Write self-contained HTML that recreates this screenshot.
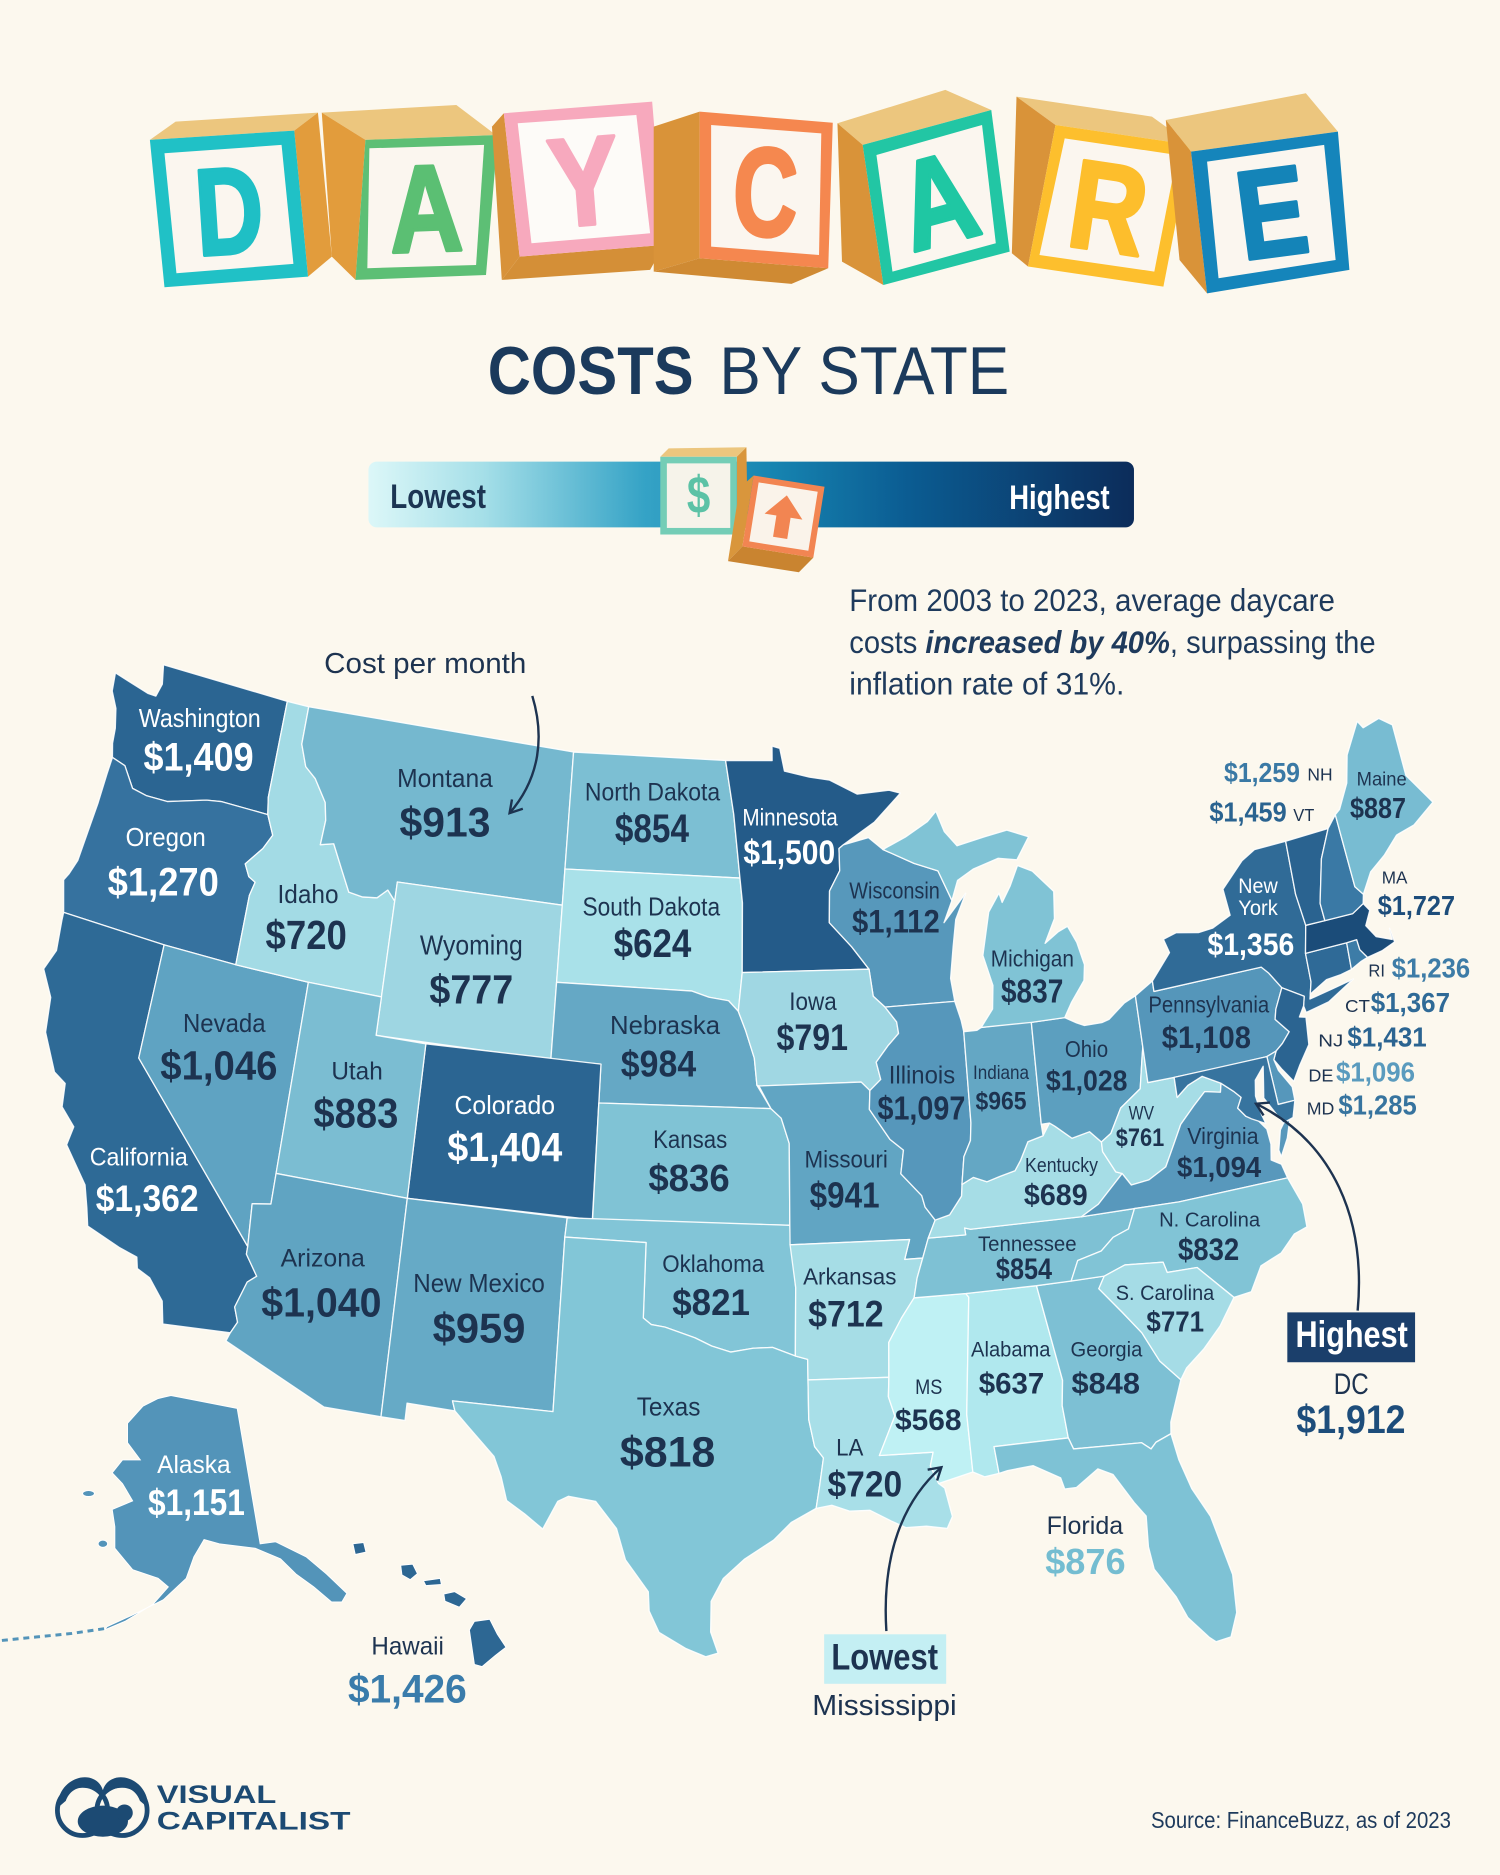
<!DOCTYPE html>
<html><head><meta charset="utf-8">
<style>
html,body{margin:0;padding:0;background:#fcf8ee;}
svg{display:block}
text{font-family:"Liberation Sans",Arial,sans-serif;}
.n{font-weight:400;fill:#1d3350}
.v{font-weight:700;fill:#1d3350}
.w{fill:#ffffff}
.bl{font-weight:700;stroke-linejoin:round;stroke-width:3}
</style></head><body>
<svg width="1500" height="1875" viewBox="0 0 1254 1568" preserveAspectRatio="none">
<defs>
<linearGradient id="lg" x1="0" x2="1" y1="0" y2="0">
<stop offset="0" stop-color="#dcf7f8"/><stop offset="0.15" stop-color="#a5dfe8"/><stop offset="0.36" stop-color="#35a3c6"/><stop offset="0.52" stop-color="#1786b2"/><stop offset="0.7" stop-color="#0b5d93"/><stop offset="1" stop-color="#0c2c5a"/>
</linearGradient>
<marker id="ah" markerWidth="14" markerHeight="14" refX="11" refY="7" orient="auto" markerUnits="userSpaceOnUse">
<path d="M1,1 L11,7 L1,13" fill="none" stroke="#1d3350" stroke-width="2"/>
</marker>
</defs>
<rect width="1254" height="1568" fill="#fcf8ee"/>

<!-- DAYCARE blocks -->
<g>
<polygon points="125.3,117 146.8,101.7 265.8,94.2 246,109.2" fill="#ecc67e"/>
<polygon points="246,109.2 265.8,94.2 277.4,214.6 257.5,231.3" fill="#e29c3c"/>
<polygon points="125.3,117 246,109.2 257.5,231.3 137.5,240.2" fill="#20c1c6"/>
<polygon points="137.5,128.2 235.4,121.2 245.3,220.7 147.5,228.5" fill="#fbf6ef"/>
<text class="bl" transform="translate(191.5,175) rotate(-3.7) scale(0.76,1)" y="37" text-anchor="middle" font-size="103" fill="#1fbfc5" stroke="#1fbfc5">D</text>

<polygon points="269,94.2 381.5,87.8 414.6,112.9 305.5,117" fill="#ecc67e"/>
<polygon points="269,94.2 305.5,117 297.2,234.1 277.4,214.6" fill="#e29c3c"/>
<polygon points="305.5,117 416.2,112.9 406.3,230 297.2,234.1" fill="#5dbf75"/>
<polygon points="308.8,124 404.7,121.2 398,221.6 307.1,224.3" fill="#fbf6ef"/>
<text class="bl" transform="translate(356,173) rotate(-2) scale(0.82,1)" y="37" text-anchor="middle" font-size="103" fill="#5bbf73" stroke="#5bbf73">A</text>

<polygon points="411.3,105.9 421.2,94.7 434.4,214.6 419.5,234.1" fill="#d8923a"/>
<polygon points="434.4,214.6 555.1,204.8 543.5,225.7 419.5,234.1" fill="#d48f37"/>
<polygon points="421.2,94.7 545.2,85 555.1,204.8 434.4,214.6" fill="#f7a9bd"/>
<polygon points="432.8,103.1 532,96.1 543.5,195.1 444.3,203.4" fill="#fdfbf8"/>
<text class="bl" transform="translate(488,150) rotate(-4.5) scale(0.84,1)" y="38" text-anchor="middle" font-size="105" fill="#f7a9be" stroke="#f7a9be">Y</text>

<polygon points="546.5,105.9 584.9,93.4 584.9,216 546.5,227.1" fill="#d99339"/>
<polygon points="546.5,227.1 584.9,216 692.4,224.3 661.7,237.4" fill="#cf8a33"/>
<polygon points="584.9,93.4 696.2,102.6 692.4,224.3 584.9,216" fill="#f5874f"/>
<polygon points="594.5,104.5 686.6,111.5 684.7,213.2 594.5,206.2" fill="#fbf6ef"/>
<text class="bl" transform="translate(640,159) rotate(2) scale(0.71,1)" y="38" text-anchor="middle" font-size="105" fill="#f5884f" stroke="#f5884f">C</text>

<polygon points="700.1,103.1 790.3,75.2 828.7,92 721.2,121.2" fill="#ecc67e"/>
<polygon points="700.1,103.1 721.2,121.2 738.5,238.3 703.9,218.8" fill="#d99339"/>
<polygon points="721.2,121.2 828.7,92 844.1,210.4 738.5,238.3" fill="#22c6a4"/>
<polygon points="732.7,129.6 821,104.5 832.5,203.4 746.1,227.1" fill="#fbf6ef"/>
<text class="bl" transform="translate(783,166) rotate(-15) scale(0.82,1)" y="38" text-anchor="middle" font-size="105" fill="#1fc7a3" stroke="#1fc7a3">A</text>

<polygon points="849.8,80.8 963,97.5 995.7,121.2 882.4,104.5" fill="#ecc67e"/>
<polygon points="849.8,80.8 882.4,104.5 859.4,222.9 845.9,211.8" fill="#d99339"/>
<polygon points="882.4,104.5 995.7,121.2 972.6,239.7 859.4,222.9" fill="#fdbf2d"/>
<polygon points="890.1,115.7 984.1,129.6 965,227.1 869,213.2" fill="#fbf6ef"/>
<text class="bl" transform="translate(927,172) rotate(8.5) scale(0.84,1)" y="38" text-anchor="middle" font-size="105" fill="#fdbe2c" stroke="#fdbe2c">R</text>

<polygon points="974.6,100.3 1091.7,78 1118.5,110.1 995.7,126.8" fill="#ecc67e"/>
<polygon points="974.6,100.3 995.7,126.8 1009.1,245.3 986.1,217.4" fill="#d99339"/>
<polygon points="995.7,126.8 1118.5,110.1 1128.1,225.7 1009.1,245.3" fill="#1585bb"/>
<polygon points="1009.1,135.2 1107,121.2 1116.6,217.4 1018.7,232.7" fill="#fbf6ef"/>
<text class="bl" transform="translate(1063,176) rotate(-7.5) scale(0.83,1)" y="38" text-anchor="middle" font-size="105" fill="#1484b8" stroke="#1484b8">E</text>
</g>

<!-- Title -->
<text x="407.8" y="329.5" font-size="57" font-weight="700" fill="#1b3a5c" textLength="172" lengthAdjust="spacingAndGlyphs">COSTS</text>
<text x="601.4" y="329.5" font-size="57" font-weight="400" fill="#1b3a5c" textLength="242.3" lengthAdjust="spacingAndGlyphs">BY STATE</text>

<!-- Legend bar -->
<rect x="308" y="386" width="640" height="55" rx="7" fill="url(#lg)"/>
<text x="326.3" y="424.8" font-size="29" font-weight="700" fill="#1c3553" textLength="80" lengthAdjust="spacingAndGlyphs">Lowest</text>
<text x="843.7" y="425.5" font-size="29" font-weight="700" fill="#ffffff" textLength="84" lengthAdjust="spacingAndGlyphs">Highest</text>
<g>
<polygon points="552,382 559,375 624,374 616,382" fill="#ecc67e"/>
<polygon points="616,382 624,374 625,440 616,447" fill="#d9963c"/>
<rect x="552" y="382" width="64" height="65" fill="#74cdb6"/>
<rect x="557.5" y="387.5" width="53" height="54" fill="#f6f3ea"/>
<text x="584" y="429" font-size="44" font-weight="700" fill="#5cc2a6" text-anchor="middle" transform="translate(584,0) scale(0.8,1) translate(-584,0)">$</text>
</g>
<g transform="translate(655,432) rotate(9)">
<polygon points="-30,-30 -40,-18 -40,44 -30,30" fill="#d9963c"/>
<polygon points="-30,30 -40,44 20,44 30,30" fill="#c98430"/>
<rect x="-30" y="-30" width="60" height="60" fill="#f28552"/>
<rect x="-25" y="-25" width="50" height="50" fill="#faf3ea"/>
<polygon points="0,-18 16,0 6,0 6,18 -6,18 -6,0 -16,0" fill="#f28552"/>
</g>

<!-- Paragraph -->
<text x="710" y="511" font-size="26" fill="#1e3a5c" textLength="406" lengthAdjust="spacingAndGlyphs">From 2003 to 2023, average daycare</text>
<text x="710" y="546" font-size="26" fill="#1e3a5c" textLength="440" lengthAdjust="spacingAndGlyphs">costs <tspan font-weight="700" font-style="italic">increased by 40%</tspan>, surpassing the</text>
<text x="710" y="581" font-size="26" fill="#1e3a5c" textLength="230" lengthAdjust="spacingAndGlyphs">inflation rate of 31%.</text>

<text x="271" y="563" font-size="24" fill="#1d3350" textLength="169" lengthAdjust="spacingAndGlyphs">Cost per month</text>

<!-- States -->
<g id="st" stroke="#ffffff" stroke-width="1.1" stroke-linejoin="round" stroke-opacity="0.9"></g>

<!-- Alaska & Hawaii -->
<g stroke="#ffffff" stroke-width="0.8">
<path fill="#5394b9" d="M142.9,1167 L198.3,1177.8 L217.5,1291.1 L230.3,1289.3 L255.9,1301.9 L273,1316.3 L290,1332.5 L285.8,1339.7 L277.2,1339.7 L262.3,1327.1 L247.4,1316.3 L234.6,1303.7 L213.3,1294.7 L183.4,1291.1 L170.6,1287.5 L162.1,1301.9 L155.7,1319.9 L136.5,1337.9 L110.9,1350.5 L89.6,1360.2 L87.4,1363.1 L104.5,1355.9 L128,1341.5 L140.7,1327.1 L132.2,1319.9 L110.9,1312.7 L96,1294.7 L96,1276.7 L93.8,1262.3 L110.9,1255.1 L102.4,1240.7 L93.8,1231.7 L102.4,1220.9 L117.3,1220.9 L106.6,1206.5 L106.6,1190.3 L119.4,1176 L132.2,1169.5 Z"/>
<ellipse cx="74" cy="1249" rx="5" ry="2.5" fill="#5394b9"/>
<ellipse cx="86" cy="1291" rx="4" ry="3" fill="#5394b9"/>
<path fill="#2d6793" d="M396.6,1355.9 L409.4,1354.1 L415.8,1366.7 L423,1377.5 L413.7,1384.7 L403,1393.7 L396.6,1391.9 L394.5,1377.5 L392.4,1363.1 Z"/>
<path fill="#2d6793" d="M371,1333 L380,1331 L390,1337 L384,1344 L372,1339 Z"/>
<path fill="#2d6793" d="M354,1322 L368,1320 L369,1325 L356,1326 Z"/>
<path fill="#2d6793" d="M335,1309 L345,1308 L349,1316 L343,1321 L336,1317 Z"/>
<path fill="#2d6793" d="M295,1291 L304,1290 L306,1298 L297,1300 Z"/>
</g>
<path d="M87,1362 L60,1366 L30,1369 L0,1372" fill="none" stroke="#5394b9" stroke-width="2.5" stroke-dasharray="5 4"/>

<!-- Cost per month arrow (drawn above states) -->
<path d="M445,582 C455,615 452,650 426,680" fill="none" stroke="#1d3350" stroke-width="2" marker-end="url(#ah)"/>

<!-- State labels -->
<g>
<text class="n w" x="116" y="608" font-size="22" textLength="102" lengthAdjust="spacingAndGlyphs">Washington</text>
<text class="v w" x="120" y="644.5" font-size="33" textLength="92" lengthAdjust="spacingAndGlyphs">$1,409</text>
<text class="n w" x="105" y="707.6" font-size="22" textLength="67" lengthAdjust="spacingAndGlyphs">Oregon</text>
<text class="v w" x="90" y="748.7" font-size="33" textLength="93" lengthAdjust="spacingAndGlyphs">$1,270</text>
<text class="n w" x="75" y="974.8" font-size="21" textLength="82" lengthAdjust="spacingAndGlyphs">California</text>
<text class="v w" x="80" y="1012.9" font-size="31" textLength="86" lengthAdjust="spacingAndGlyphs">$1,362</text>
<text class="n" x="232" y="755" font-size="22" textLength="51" lengthAdjust="spacingAndGlyphs">Idaho</text>
<text class="v" x="222" y="793.8" font-size="34" textLength="68" lengthAdjust="spacingAndGlyphs">$720</text>
<text class="n" x="332" y="658.3" font-size="22" textLength="80" lengthAdjust="spacingAndGlyphs">Montana</text>
<text class="v" x="334" y="699.4" font-size="35" textLength="76" lengthAdjust="spacingAndGlyphs">$913</text>
<text class="n" x="489" y="669.5" font-size="21" textLength="113" lengthAdjust="spacingAndGlyphs">North Dakota</text>
<text class="v" x="514" y="704.2" font-size="33" textLength="62" lengthAdjust="spacingAndGlyphs">$854</text>
<text class="n" x="487" y="765.5" font-size="22" textLength="115" lengthAdjust="spacingAndGlyphs">South Dakota</text>
<text class="v" x="513" y="800.2" font-size="33" textLength="65" lengthAdjust="spacingAndGlyphs">$624</text>
<text class="n" x="351" y="798.3" font-size="23" textLength="86" lengthAdjust="spacingAndGlyphs">Wyoming</text>
<text class="v" x="359" y="839.3" font-size="34" textLength="70" lengthAdjust="spacingAndGlyphs">$777</text>
<text class="n" x="153" y="862.9" font-size="22" textLength="69" lengthAdjust="spacingAndGlyphs">Nevada</text>
<text class="v" x="134" y="902.8" font-size="34" textLength="98" lengthAdjust="spacingAndGlyphs">$1,046</text>
<text class="n" x="277" y="902.8" font-size="21" textLength="43" lengthAdjust="spacingAndGlyphs">Utah</text>
<text class="v" x="262" y="943.1" font-size="35" textLength="71" lengthAdjust="spacingAndGlyphs">$883</text>
<text class="n w" x="380" y="931.5" font-size="22" textLength="84" lengthAdjust="spacingAndGlyphs">Colorado</text>
<text class="v w" x="374" y="971.1" font-size="34" textLength="96" lengthAdjust="spacingAndGlyphs">$1,404</text>
<text class="n" x="510" y="864.7" font-size="22" textLength="92" lengthAdjust="spacingAndGlyphs">Nebraska</text>
<text class="v" x="519" y="900.2" font-size="31" textLength="63" lengthAdjust="spacingAndGlyphs">$984</text>
<text class="n" x="546" y="959.9" font-size="21" textLength="62" lengthAdjust="spacingAndGlyphs">Kansas</text>
<text class="v" x="542" y="996.1" font-size="32" textLength="68" lengthAdjust="spacingAndGlyphs">$836</text>
<text class="n" x="553.6" y="1063.7" font-size="20" textLength="85.3" lengthAdjust="spacingAndGlyphs">Oklahoma</text>
<text class="v" x="562" y="1099.7" font-size="31" textLength="65" lengthAdjust="spacingAndGlyphs">$821</text>
<text class="n" x="234.6" y="1059" font-size="21" textLength="70.4" lengthAdjust="spacingAndGlyphs">Arizona</text>
<text class="v" x="218.4" y="1101.1" font-size="34" textLength="100.6" lengthAdjust="spacingAndGlyphs">$1,040</text>
<text class="n" x="345.5" y="1080.6" font-size="22" textLength="110" lengthAdjust="spacingAndGlyphs">New Mexico</text>
<text class="v" x="361.7" y="1122.7" font-size="35" textLength="77.6" lengthAdjust="spacingAndGlyphs">$959</text>
<text class="n" x="532.3" y="1183.9" font-size="22" textLength="53.3" lengthAdjust="spacingAndGlyphs">Texas</text>
<text class="v" x="518.2" y="1226.3" font-size="36" textLength="79.8" lengthAdjust="spacingAndGlyphs">$818</text>
<text class="n w" x="620.6" y="690.4" font-size="20" textLength="79.8" lengthAdjust="spacingAndGlyphs">Minnesota</text>
<text class="v w" x="621.5" y="722.5" font-size="29" textLength="76.7" lengthAdjust="spacingAndGlyphs">$1,500</text>
<text class="n" x="710" y="751.3" font-size="19" textLength="75.7" lengthAdjust="spacingAndGlyphs">Wisconsin</text>
<text class="v" x="712.3" y="780" font-size="27" textLength="73.4" lengthAdjust="spacingAndGlyphs">$1,112</text>
<text class="n" x="828.3" y="808.4" font-size="19" textLength="69.5" lengthAdjust="spacingAndGlyphs">Michigan</text>
<text class="v" x="836.8" y="838.2" font-size="28" textLength="52.1" lengthAdjust="spacingAndGlyphs">$837</text>
<text class="n" x="659.8" y="844.6" font-size="21" textLength="39.7" lengthAdjust="spacingAndGlyphs">Iowa</text>
<text class="v" x="649.2" y="878.2" font-size="31" textLength="59.7" lengthAdjust="spacingAndGlyphs">$791</text>
<text class="n" x="743" y="906.2" font-size="21" textLength="55.5" lengthAdjust="spacingAndGlyphs">Illinois</text>
<text class="v" x="733.6" y="936" font-size="28" textLength="73.4" lengthAdjust="spacingAndGlyphs">$1,097</text>
<text class="n" x="813.4" y="902.4" font-size="16" textLength="46.9" lengthAdjust="spacingAndGlyphs">Indiana</text>
<text class="v" x="815.5" y="927.8" font-size="21" textLength="42.7" lengthAdjust="spacingAndGlyphs">$965</text>
<text class="n" x="890.2" y="883.8" font-size="19" textLength="36.2" lengthAdjust="spacingAndGlyphs">Ohio</text>
<text class="v" x="874.4" y="911.8" font-size="24" textLength="68.2" lengthAdjust="spacingAndGlyphs">$1,028</text>
<text class="n" x="960" y="846.6" font-size="19" textLength="101" lengthAdjust="spacingAndGlyphs">Pennsylvania</text>
<text class="v" x="971.2" y="876.3" font-size="26" textLength="74.6" lengthAdjust="spacingAndGlyphs">$1,108</text>
<text class="n w" x="1035.2" y="747" font-size="18" textLength="33" lengthAdjust="spacingAndGlyphs">New</text>
<text class="n w" x="1035.2" y="765" font-size="18" textLength="33" lengthAdjust="spacingAndGlyphs">York</text>
<text class="v w" x="1009.5" y="798.6" font-size="26" textLength="72.5" lengthAdjust="spacingAndGlyphs">$1,356</text>
<text class="n" x="943.5" y="936" font-size="16" textLength="21.3" lengthAdjust="spacingAndGlyphs">WV</text>
<text class="v" x="932.8" y="958.4" font-size="21" textLength="40.5" lengthAdjust="spacingAndGlyphs">$761</text>
<text class="n" x="992.5" y="956.5" font-size="19" textLength="59.7" lengthAdjust="spacingAndGlyphs">Virginia</text>
<text class="v" x="984" y="984.5" font-size="24" textLength="70.4" lengthAdjust="spacingAndGlyphs">$1,094</text>
<text class="n" x="856.9" y="980" font-size="17" textLength="61" lengthAdjust="spacingAndGlyphs">Kentucky</text>
<text class="v" x="856" y="1007.7" font-size="25" textLength="53.3" lengthAdjust="spacingAndGlyphs">$689</text>
<text class="n" x="672.6" y="976.3" font-size="20" textLength="69.6" lengthAdjust="spacingAndGlyphs">Missouri</text>
<text class="v" x="676.9" y="1009.9" font-size="30" textLength="58.4" lengthAdjust="spacingAndGlyphs">$941</text>
<text class="n" x="817.6" y="1046.1" font-size="18" textLength="82.4" lengthAdjust="spacingAndGlyphs">Tennessee</text>
<text class="v" x="832.6" y="1069.6" font-size="25" textLength="46.9" lengthAdjust="spacingAndGlyphs">$854</text>
<text class="n" x="969" y="1025.6" font-size="17" textLength="84.5" lengthAdjust="spacingAndGlyphs">N. Carolina</text>
<text class="v" x="984.8" y="1053.6" font-size="26" textLength="51.2" lengthAdjust="spacingAndGlyphs">$832</text>
<text class="n" x="671.4" y="1074.1" font-size="19" textLength="78" lengthAdjust="spacingAndGlyphs">Arkansas</text>
<text class="v" x="675.6" y="1109.5" font-size="31" textLength="63.1" lengthAdjust="spacingAndGlyphs">$712</text>
<text class="n" x="932.8" y="1087.2" font-size="18" textLength="82.3" lengthAdjust="spacingAndGlyphs">S. Carolina</text>
<text class="v" x="958.4" y="1113.3" font-size="24" textLength="48.2" lengthAdjust="spacingAndGlyphs">$771</text>
<text class="n" x="811.8" y="1134.6" font-size="18" textLength="66.4" lengthAdjust="spacingAndGlyphs">Alabama</text>
<text class="v" x="818.2" y="1165.2" font-size="25" textLength="54.8" lengthAdjust="spacingAndGlyphs">$637</text>
<text class="n" x="895" y="1134.6" font-size="18" textLength="60" lengthAdjust="spacingAndGlyphs">Georgia</text>
<text class="v" x="895.8" y="1165.2" font-size="25" textLength="57.2" lengthAdjust="spacingAndGlyphs">$848</text>
<text class="n" x="765" y="1165.9" font-size="18" textLength="22.8" lengthAdjust="spacingAndGlyphs">MS</text>
<text class="v" x="748.2" y="1195.7" font-size="25" textLength="55.6" lengthAdjust="spacingAndGlyphs">$568</text>
<text class="n" x="699" y="1217.3" font-size="20" textLength="22.8" lengthAdjust="spacingAndGlyphs">LA</text>
<text class="v" x="691.8" y="1251.5" font-size="30" textLength="62.4" lengthAdjust="spacingAndGlyphs">$720</text>
<text class="n" x="875" y="1282.8" font-size="21" textLength="64" lengthAdjust="spacingAndGlyphs">Florida</text>
<text class="v" x="873.8" y="1316.3" font-size="30" textLength="67.2" lengthAdjust="spacingAndGlyphs" style="fill:#74bdd1">$876</text>
<text class="n" x="1134.2" y="657.1" font-size="16" textLength="41.8" lengthAdjust="spacingAndGlyphs">Maine</text>
<text class="v" x="1128.6" y="684.1" font-size="24" textLength="46.8" lengthAdjust="spacingAndGlyphs">$887</text>
<text class="v" x="1023.3" y="654" font-size="23" textLength="63.5" lengthAdjust="spacingAndGlyphs" style="fill:#3a79a5">$1,259</text>
<text class="n" x="1093" y="652.9" font-size="15" textLength="21.1" lengthAdjust="spacingAndGlyphs">NH</text>
<text class="v" x="1011" y="686.9" font-size="23" textLength="64.7" lengthAdjust="spacingAndGlyphs" style="fill:#2a6390">$1,459</text>
<text class="n" x="1081.2" y="686.4" font-size="14.5" textLength="17.6" lengthAdjust="spacingAndGlyphs">VT</text>
<text class="n" x="1155.1" y="739" font-size="15" textLength="21.5" lengthAdjust="spacingAndGlyphs">MA</text>
<text class="v" x="1151.8" y="765" font-size="23" textLength="64.6" lengthAdjust="spacingAndGlyphs" style="fill:#1d4d7b">$1,727</text>
<text class="n" x="1144" y="816.5" font-size="15" textLength="13.9" lengthAdjust="spacingAndGlyphs">RI</text>
<text class="v" x="1163.5" y="817.4" font-size="23" textLength="65.5" lengthAdjust="spacingAndGlyphs" style="fill:#3d7ca7">$1,236</text>
<text class="n" x="1124.4" y="846.3" font-size="15" textLength="20.9" lengthAdjust="spacingAndGlyphs">CT</text>
<text class="v" x="1145.9" y="846.3" font-size="23" textLength="66.3" lengthAdjust="spacingAndGlyphs" style="fill:#2f6a97">$1,367</text>
<text class="n" x="1102.1" y="875.1" font-size="15" textLength="20.9" lengthAdjust="spacingAndGlyphs">NJ</text>
<text class="v" x="1126.4" y="875.1" font-size="23" textLength="66.3" lengthAdjust="spacingAndGlyphs" style="fill:#2b6491">$1,431</text>
<text class="n" x="1093.8" y="904.3" font-size="15" textLength="20.9" lengthAdjust="spacingAndGlyphs">DE</text>
<text class="v" x="1116.9" y="904.3" font-size="23" textLength="66.1" lengthAdjust="spacingAndGlyphs" style="fill:#5a9bbe">$1,096</text>
<text class="n" x="1092.4" y="932.2" font-size="15" textLength="23.1" lengthAdjust="spacingAndGlyphs">MD</text>
<text class="v" x="1118.9" y="932.2" font-size="23" textLength="65.5" lengthAdjust="spacingAndGlyphs" style="fill:#37749f">$1,285</text>
<text class="n w" x="131.4" y="1231.7" font-size="21" textLength="61.4" lengthAdjust="spacingAndGlyphs">Alaska</text>
<text class="v w" x="123.7" y="1267" font-size="31" textLength="81" lengthAdjust="spacingAndGlyphs">$1,151</text>
<text class="n" x="310.5" y="1383.6" font-size="21" textLength="60.6" lengthAdjust="spacingAndGlyphs">Hawaii</text>
<text class="v" x="290.9" y="1423.6" font-size="33" textLength="99.3" lengthAdjust="spacingAndGlyphs" style="fill:#3a7cab">$1,426</text>
</g>

<!-- Highest / Lowest callouts -->
<path d="M1135,1096 C1142,1020 1115,955 1050,923" fill="none" stroke="#1d3350" stroke-width="2" marker-end="url(#ah)"/>
<rect x="1076.2" y="1097.5" width="106.8" height="41.7" fill="#1b3f6b"/>
<text x="1083" y="1126.3" font-size="31" font-weight="700" fill="#ffffff" textLength="94" lengthAdjust="spacingAndGlyphs">Highest</text>
<text class="n" x="1115" y="1165.9" font-size="25" textLength="29.2" lengthAdjust="spacingAndGlyphs">DC</text>
<text class="v" x="1083.8" y="1198.3" font-size="33" textLength="91.2" lengthAdjust="spacingAndGlyphs" style="fill:#1d4d7b">$1,912</text>

<path d="M741,1364 C737,1300 755,1255 787,1227" fill="none" stroke="#1d3350" stroke-width="2" marker-end="url(#ah)"/>
<rect x="689" y="1366.7" width="102" height="41.4" fill="#c4eff3"/>
<text class="v" x="695" y="1396.2" font-size="31" textLength="89.2" lengthAdjust="spacingAndGlyphs">Lowest</text>
<text class="n" x="679" y="1434.4" font-size="24" textLength="120.8" lengthAdjust="spacingAndGlyphs">Mississippi</text>

<!-- Logo -->
<g fill="#1c4a73">
<circle cx="69" cy="1514" r="21" fill="none" stroke="#1c4a73" stroke-width="4"/>
<circle cx="102" cy="1514" r="21" fill="none" stroke="#1c4a73" stroke-width="4"/>
<path d="M48,1512 C48,1485 80,1478 86,1497 C92,1478 124,1485 124,1512 L117,1506 C112,1492 96,1491 86,1503 C76,1491 60,1492 55,1506 Z"/>
<ellipse cx="86" cy="1523" rx="21" ry="13"/>
<circle cx="104" cy="1516" r="7"/>
</g>
<text x="131" y="1508" font-size="21" font-weight="700" fill="#1c4a73" textLength="100" lengthAdjust="spacingAndGlyphs">VISUAL</text>
<text x="131" y="1530" font-size="21" font-weight="700" fill="#1c4a73" textLength="162" lengthAdjust="spacingAndGlyphs">CAPITALIST</text>

<text x="962.2" y="1528.7" font-size="19.5" fill="#1e3a5c" textLength="250.8" lengthAdjust="spacingAndGlyphs">Source: FinanceBuzz, as of 2023</text>
</svg>

<script>
(function(){
var n=0.602837,C=1.351222,r=Math.PI/180;
function P(lo,la){var rho=Math.sqrt(C-2*n*Math.sin(la*r))/n;var t=n*(lo+96)*r;return [629.6+1610*rho*Math.sin(t),1850*rho*Math.cos(t)-1402.4];}
var D=[
["#2b6592",[[-124.72,48.38],[-123.1,48.15],[-122.75,48.15],[-122.6,48.5],[-122.76,49.0],[-117.03,49.0],[-117.04,46.43],[-116.92,45.99],[-118.98,46.0],[-119.6,45.93],[-121.2,45.6],[-122.1,45.58],[-122.75,45.65],[-123.3,46.15],[-123.9,46.25],[-124.05,46.6],[-124.1,47.0],[-124.3,47.5],[-124.65,47.9]]],
["#36729f",[[-124.21,42.0],[-120.0,42.0],[-117.03,42.0],[-117.03,43.83],[-116.9,44.2],[-117.2,44.3],[-117.45,44.6],[-116.85,45.1],[-116.55,45.5],[-116.92,45.99],[-118.98,46.0],[-119.6,45.93],[-121.2,45.6],[-122.1,45.58],[-122.75,45.65],[-123.3,46.15],[-123.9,46.25],[-123.95,45.8],[-124.0,45.0],[-124.1,44.2],[-124.2,43.4],[-124.4,43.0],[-124.55,42.8]]],
["#2e6a96",[[-124.21,42.0],[-120.0,42.0],[-120.0,39.0],[-114.63,35.0],[-114.63,34.8],[-114.13,34.3],[-114.43,34.1],[-114.72,33.4],[-114.53,33.03],[-114.72,32.72],[-117.12,32.53],[-117.3,33.1],[-117.9,33.6],[-118.4,33.75],[-118.5,34.03],[-119.2,34.15],[-120.47,34.45],[-120.65,34.9],[-120.9,35.45],[-121.9,36.3],[-121.8,36.8],[-122.4,37.2],[-122.5,37.8],[-123.0,38.0],[-123.7,38.9],[-123.85,39.8],[-124.4,40.44],[-124.1,41.0],[-124.2,41.8]]],
["#5fa3c2",[[-120.0,42.0],[-117.03,42.0],[-114.04,42.0],[-114.05,36.2],[-114.74,36.1],[-114.63,35.0],[-120.0,39.0]]],
["#a3dbe5",[[-117.03,49.0],[-116.05,49.0],[-116.05,48.0],[-115.7,47.45],[-115.2,47.2],[-114.6,46.65],[-114.45,46.2],[-114.5,45.55],[-113.95,45.65],[-113.45,45.05],[-113.0,44.5],[-112.4,44.45],[-111.8,44.5],[-111.4,44.75],[-111.05,44.5],[-111.05,42.0],[-114.04,42.0],[-117.03,42.0],[-117.03,43.83],[-116.9,44.2],[-117.2,44.3],[-117.45,44.6],[-116.85,45.1],[-116.55,45.5],[-116.92,45.99],[-117.04,46.43]]],
["#75b8cf",[[-116.05,49.0],[-104.05,49.0],[-104.05,45.94],[-104.05,45.0],[-111.05,45.0],[-111.05,44.5],[-111.4,44.75],[-111.8,44.5],[-112.4,44.45],[-113.0,44.5],[-113.45,45.05],[-113.95,45.65],[-114.5,45.55],[-114.45,46.2],[-114.6,46.65],[-115.2,47.2],[-115.7,47.45],[-116.05,48.0]]],
["#9ed6e2",[[-111.05,45.0],[-104.05,45.0],[-104.05,41.0],[-111.05,41.0]]],
["#7cbfd3",[[-104.05,49.0],[-97.23,49.0],[-96.85,47.6],[-96.56,45.94],[-104.05,45.94]]],
["#a9e1e9",[[-104.05,45.94],[-96.56,45.94],[-96.45,45.3],[-96.45,43.5],[-96.6,42.5],[-97.0,42.77],[-97.8,42.85],[-98.5,43.0],[-104.05,43.0]]],
["#65a8c5",[[-104.05,43.0],[-98.5,43.0],[-97.8,42.85],[-97.0,42.77],[-96.6,42.5],[-96.3,42.0],[-95.95,41.3],[-95.85,40.6],[-95.3,40.0],[-102.05,40.0],[-102.05,41.0],[-104.05,41.0]]],
["#2b6592",[[-109.05,41.0],[-102.05,41.0],[-102.05,37.0],[-109.05,37.0]]],
["#7bbdd2",[[-114.04,42.0],[-111.05,42.0],[-111.05,41.0],[-109.05,41.0],[-109.05,37.0],[-114.05,37.0]]],
["#60a4c2",[[-114.05,37.0],[-109.05,37.0],[-109.05,31.33],[-111.07,31.33],[-114.82,32.49],[-114.72,32.72],[-114.53,33.03],[-114.72,33.4],[-114.43,34.1],[-114.13,34.3],[-114.63,34.8],[-114.63,35.0],[-114.74,36.1],[-114.05,36.2]]],
["#66aac6",[[-109.05,37.0],[-103.0,37.0],[-103.04,36.5],[-103.06,32.0],[-106.62,32.0],[-106.5,31.75],[-108.2,31.78],[-108.2,31.33],[-109.05,31.33]]],
["#80c3d5",[[-102.05,40.0],[-95.3,40.0],[-94.9,39.75],[-94.6,39.1],[-94.62,37.0],[-102.04,37.0]]],
["#82c5d7",[[-103.0,37.0],[-94.62,37.0],[-94.43,35.4],[-94.48,33.64],[-95.3,33.87],[-96.0,33.85],[-96.8,33.75],[-97.5,33.9],[-98.1,34.1],[-99.2,34.35],[-99.7,34.4],[-100.0,34.56],[-100.0,36.5],[-103.04,36.5]]],
["#82c6d7",[[-103.04,36.5],[-100.0,36.5],[-100.0,34.56],[-99.7,34.4],[-99.2,34.35],[-98.1,34.1],[-97.5,33.9],[-96.8,33.75],[-96.0,33.85],[-95.3,33.87],[-94.48,33.64],[-94.04,33.55],[-94.04,32.0],[-93.85,31.3],[-93.55,31.0],[-93.7,30.3],[-93.84,29.7],[-94.7,29.35],[-95.3,28.9],[-96.3,28.4],[-97.0,27.9],[-97.4,27.3],[-97.4,26.5],[-97.15,25.95],[-97.55,25.85],[-98.2,26.05],[-99.1,26.45],[-99.45,27.0],[-99.5,27.5],[-100.3,28.3],[-100.65,29.1],[-101.4,29.77],[-102.35,29.85],[-102.7,29.7],[-103.15,28.95],[-103.8,29.3],[-104.45,29.6],[-104.7,30.2],[-105.0,30.7],[-106.0,31.4],[-106.5,31.75],[-106.62,32.0],[-103.06,32.0]]],
["#245b89",[[-97.23,49.0],[-95.15,49.0],[-95.15,49.38],[-94.8,49.32],[-94.6,48.72],[-93.5,48.55],[-92.6,48.45],[-91.4,48.05],[-90.0,48.1],[-89.5,48.0],[-90.7,47.3],[-92.1,46.75],[-92.29,46.66],[-92.29,46.08],[-92.75,45.57],[-92.8,44.75],[-91.9,44.1],[-91.22,43.5],[-96.45,43.5],[-96.45,45.3],[-96.56,45.94],[-96.85,47.6]]],
["#5798bb",[[-92.1,46.75],[-91.0,46.9],[-90.4,46.57],[-89.1,46.15],[-88.1,45.9],[-87.6,45.1],[-88.0,44.55],[-87.0,45.25],[-87.5,44.6],[-87.7,43.9],[-87.9,43.1],[-87.8,42.5],[-90.64,42.5],[-91.1,42.8],[-91.22,43.5],[-91.9,44.1],[-92.8,44.75],[-92.75,45.57],[-92.29,46.08],[-92.29,46.66]]],
["#a0d7e3",[[-96.45,43.5],[-91.22,43.5],[-91.1,42.8],[-90.64,42.5],[-90.2,42.1],[-90.15,41.8],[-90.6,41.5],[-91.1,41.1],[-90.95,40.65],[-91.4,40.38],[-91.73,40.61],[-95.77,40.58],[-95.85,40.6],[-95.95,41.3],[-96.3,42.0],[-96.6,42.5]]],
["#61a5c3",[[-95.77,40.58],[-91.73,40.61],[-91.4,40.38],[-91.45,39.9],[-90.7,39.1],[-90.2,38.8],[-90.35,38.2],[-89.6,37.6],[-89.5,37.3],[-89.15,36.95],[-89.45,36.5],[-89.7,36.0],[-90.37,36.0],[-90.15,36.5],[-94.62,36.5],[-94.62,37.0],[-94.6,39.1],[-94.9,39.75],[-95.3,40.0]]],
["#a6dde6",[[-94.62,36.5],[-90.15,36.5],[-90.37,36.0],[-89.7,36.0],[-89.95,35.5],[-90.1,35.0],[-90.6,34.5],[-91.1,33.9],[-91.15,33.0],[-94.04,33.02],[-94.04,33.55],[-94.48,33.64],[-94.43,35.4]]],
["#a8dfe8",[[-94.04,33.02],[-91.15,33.0],[-91.2,32.5],[-91.0,32.0],[-91.6,31.0],[-89.73,31.0],[-89.85,30.65],[-89.6,30.18],[-89.4,30.05],[-89.2,29.3],[-89.4,29.0],[-90.1,29.1],[-90.8,29.1],[-91.3,29.3],[-92.0,29.6],[-92.7,29.6],[-93.3,29.77],[-93.84,29.7],[-93.7,30.3],[-93.55,31.0],[-93.85,31.3],[-94.04,32.0]]],
["#bff1f4",[[-91.15,33.0],[-91.1,33.9],[-90.6,34.5],[-90.1,35.0],[-88.2,35.0],[-88.1,34.9],[-88.47,31.9],[-88.4,30.4],[-89.6,30.18],[-89.85,30.65],[-89.73,31.0],[-91.6,31.0],[-91.0,32.0],[-91.2,32.5]]],
["#b0e8ee",[[-88.2,35.0],[-85.6,35.0],[-85.0,32.5],[-85.1,31.85],[-85.0,31.0],[-87.6,31.0],[-87.5,30.3],[-88.0,30.25],[-88.4,30.4],[-88.47,31.9],[-88.1,34.9]]],
["#7dc0d4",[[-85.6,35.0],[-83.1,35.0],[-83.35,34.7],[-82.6,34.0],[-82.0,33.4],[-81.5,32.6],[-80.85,32.03],[-81.4,31.0],[-81.45,30.7],[-82.0,30.55],[-82.2,30.4],[-82.5,30.6],[-84.86,30.7],[-85.0,31.0],[-85.1,31.85],[-85.0,32.5]]],
["#7ec2d5",[[-87.6,31.0],[-85.0,31.0],[-84.86,30.7],[-82.5,30.6],[-82.2,30.4],[-82.0,30.55],[-81.45,30.7],[-81.3,30.0],[-81.0,29.2],[-80.5,28.4],[-80.05,26.8],[-80.1,25.8],[-80.4,25.2],[-80.9,25.15],[-81.1,25.3],[-81.7,25.9],[-82.0,26.5],[-82.6,27.3],[-82.7,27.9],[-82.65,28.7],[-83.0,29.1],[-83.6,29.9],[-84.1,30.1],[-84.9,29.7],[-85.3,29.7],[-85.4,30.0],[-86.3,30.4],[-87.2,30.35],[-87.5,30.3]]],
["#7ec1d4",[[-89.45,36.5],[-88.05,36.5],[-88.07,36.68],[-87.85,36.63],[-83.68,36.6],[-81.68,36.59],[-82.0,36.1],[-82.6,35.95],[-83.1,35.65],[-84.0,35.5],[-84.32,35.0],[-85.6,35.0],[-88.2,35.0],[-90.1,35.0],[-89.95,35.5],[-89.7,36.0]]],
["#a6dde6",[[-89.45,36.5],[-89.15,36.95],[-88.6,37.05],[-88.1,37.5],[-88.05,37.8],[-87.6,37.95],[-87.1,37.8],[-86.6,37.9],[-86.0,38.0],[-85.75,38.25],[-85.4,38.7],[-84.8,38.8],[-84.5,39.1],[-84.3,39.0],[-83.7,38.63],[-83.0,38.73],[-82.6,38.42],[-82.6,38.17],[-82.2,37.6],[-81.97,37.53],[-82.4,37.25],[-83.0,36.85],[-83.68,36.6],[-87.85,36.63],[-88.07,36.68],[-88.05,36.5]]],
["#5697bb",[[-90.64,42.5],[-87.8,42.5],[-87.6,42.0],[-87.53,41.7],[-87.53,39.35],[-87.6,38.9],[-87.9,38.5],[-88.05,37.8],[-88.1,37.5],[-88.6,37.05],[-89.15,36.95],[-89.5,37.3],[-89.6,37.6],[-90.35,38.2],[-90.2,38.8],[-90.7,39.1],[-91.45,39.9],[-91.4,40.38],[-90.95,40.65],[-91.1,41.1],[-90.6,41.5],[-90.15,41.8],[-90.2,42.1]]],
["#64a7c4",[[-87.53,41.7],[-87.0,41.7],[-86.82,41.76],[-84.8,41.76],[-84.82,39.1],[-84.8,38.8],[-85.4,38.7],[-85.75,38.25],[-86.0,38.0],[-86.6,37.9],[-87.1,37.8],[-87.6,37.95],[-88.05,37.8],[-87.9,38.5],[-87.6,38.9],[-87.53,39.35]]],
["#5c9fbf",[[-84.8,41.73],[-83.45,41.73],[-83.0,41.55],[-82.7,41.45],[-82.0,41.45],[-81.7,41.5],[-81.0,41.85],[-80.52,41.98],[-80.52,40.64],[-80.6,40.4],[-80.85,39.6],[-81.7,39.2],[-82.2,38.6],[-82.6,38.42],[-83.0,38.73],[-83.7,38.63],[-84.3,39.0],[-84.5,39.1],[-84.82,39.1]]],
["#80c3d5",[[-86.82,41.76],[-84.8,41.73],[-83.45,41.73],[-83.1,42.1],[-82.5,42.6],[-82.4,43.0],[-82.6,43.6],[-82.9,44.05],[-83.3,43.95],[-83.9,43.7],[-83.4,44.3],[-83.3,45.0],[-84.1,45.6],[-84.7,45.8],[-85.1,45.3],[-85.5,44.9],[-85.6,45.15],[-86.1,44.7],[-86.25,44.3],[-86.5,43.6],[-86.2,42.8],[-86.3,42.2]]],
["#80c3d5",[[-90.4,46.57],[-89.1,46.15],[-88.1,45.9],[-87.6,45.1],[-87.3,45.6],[-86.6,45.85],[-85.5,46.05],[-84.7,45.95],[-84.1,46.5],[-85.0,46.75],[-86.0,46.65],[-87.2,46.5],[-87.7,46.9],[-88.0,47.45],[-88.4,47.2],[-89.4,46.85]]],
["#a6dde6",[[-80.52,40.64],[-80.6,40.4],[-80.85,39.6],[-81.7,39.2],[-82.2,38.6],[-82.6,38.42],[-82.6,38.17],[-82.2,37.6],[-81.97,37.53],[-81.68,37.2],[-81.0,37.25],[-80.3,37.5],[-79.9,38.0],[-79.5,38.5],[-78.9,38.9],[-78.4,39.2],[-77.8,39.1],[-77.72,39.32],[-78.4,39.6],[-79.0,39.45],[-79.48,39.2],[-79.48,39.72],[-80.52,39.72]]],
["#5898bc",[[-83.68,36.6],[-81.68,36.59],[-80.0,36.55],[-75.87,36.55],[-76.0,36.93],[-76.35,37.1],[-76.25,37.5],[-76.3,37.9],[-76.6,38.2],[-77.0,38.35],[-77.25,38.6],[-77.05,38.85],[-77.3,39.05],[-77.72,39.32],[-77.8,39.1],[-78.4,39.2],[-78.9,38.9],[-79.5,38.5],[-79.9,38.0],[-80.3,37.5],[-81.0,37.25],[-81.68,37.2],[-81.97,37.53],[-82.4,37.25],[-83.0,36.85]]],
["#5898bc",[[-75.63,37.95],[-75.38,38.0],[-75.6,37.55],[-75.95,37.12],[-76.0,37.3],[-75.8,37.8]]],
["#81c4d6",[[-84.32,35.0],[-84.0,35.5],[-83.1,35.65],[-82.6,35.95],[-82.0,36.1],[-81.68,36.59],[-80.0,36.55],[-75.87,36.55],[-75.5,35.8],[-75.5,35.2],[-76.0,35.1],[-76.6,34.7],[-77.4,34.5],[-77.9,33.9],[-78.55,33.85],[-79.7,34.8],[-80.8,34.82],[-80.9,35.1],[-82.3,35.2],[-83.1,35.0]]],
["#a5dce6",[[-83.35,34.7],[-83.1,35.0],[-82.3,35.2],[-80.9,35.1],[-80.8,34.82],[-79.7,34.8],[-78.55,33.85],[-79.2,33.2],[-79.9,32.7],[-80.6,32.3],[-80.85,32.03],[-81.5,32.6],[-82.0,33.4],[-82.6,34.0]]],
["#5596ba",[[-80.52,41.98],[-79.76,42.27],[-79.76,42.0],[-75.35,42.0],[-75.1,41.8],[-74.7,41.35],[-75.1,40.85],[-75.2,40.6],[-74.75,40.2],[-75.1,39.95],[-75.4,39.8],[-75.79,39.72],[-77.7,39.72],[-79.48,39.72],[-80.52,39.72],[-80.52,40.64]]],
["#306b97",[[-79.76,42.0],[-75.35,42.0],[-75.1,41.8],[-74.7,41.35],[-73.9,40.99],[-74.0,40.75],[-73.95,40.57],[-73.0,40.68],[-71.86,41.07],[-72.7,40.98],[-73.5,40.9],[-73.7,40.88],[-73.65,41.0],[-73.52,41.3],[-73.5,42.05],[-73.26,42.75],[-73.4,43.6],[-73.35,45.0],[-74.7,45.0],[-75.3,44.8],[-76.3,44.2],[-76.2,43.5],[-77.0,43.28],[-77.6,43.25],[-78.5,43.37],[-79.06,43.27],[-78.9,42.9],[-79.76,42.27]]],
["#2b6491",[[-74.7,41.35],[-75.1,40.85],[-75.2,40.6],[-74.75,40.2],[-75.1,39.95],[-75.4,39.8],[-75.55,39.6],[-75.3,39.3],[-74.95,38.93],[-74.6,39.3],[-74.1,39.75],[-74.0,40.45],[-74.25,40.5],[-74.0,40.75],[-73.9,40.99]]],
["#5697bb",[[-75.79,39.72],[-75.4,39.8],[-75.55,39.6],[-75.45,39.3],[-75.05,38.8],[-75.05,38.45],[-75.7,38.45]]],
["#37749f",[[-79.48,39.72],[-75.79,39.72],[-75.7,38.45],[-75.05,38.45],[-75.24,38.03],[-75.65,37.95],[-75.9,38.3],[-76.2,38.7],[-76.1,39.1],[-76.0,39.5],[-76.4,39.2],[-76.5,38.8],[-76.4,38.3],[-76.3,38.05],[-76.8,38.25],[-77.0,38.35],[-77.25,38.6],[-77.05,38.85],[-77.3,39.05],[-77.72,39.32],[-78.4,39.6],[-79.0,39.45],[-79.48,39.2]]],
["#2f6a97",[[-73.65,41.0],[-73.52,41.3],[-73.5,42.05],[-71.8,42.02],[-71.85,41.32],[-72.3,41.27],[-72.9,41.25]]],
["#3d7ca7",[[-71.8,42.02],[-71.38,42.02],[-71.35,41.75],[-71.12,41.5],[-71.4,41.45],[-71.85,41.32]]],
["#1b4c79",[[-73.5,42.05],[-73.26,42.75],[-72.46,42.73],[-71.3,42.7],[-70.8,42.87],[-70.6,42.65],[-70.9,42.3],[-70.6,41.95],[-70.0,41.75],[-70.0,42.05],[-69.93,41.67],[-70.5,41.55],[-71.12,41.5],[-71.35,41.75],[-71.38,42.02],[-71.8,42.02]]],
["#2a6390",[[-73.26,42.75],[-72.46,42.73],[-72.5,43.2],[-72.3,43.7],[-72.05,44.3],[-71.5,45.01],[-73.35,45.0],[-73.4,43.6]]],
["#3a79a5",[[-72.46,42.73],[-71.3,42.7],[-70.8,42.87],[-70.7,43.1],[-70.97,43.35],[-71.08,45.3],[-71.5,45.01],[-72.05,44.3],[-72.3,43.7],[-72.5,43.2]]],
["#78bcd2",[[-70.7,43.1],[-70.2,43.6],[-69.5,43.9],[-68.8,44.3],[-68.0,44.4],[-67.0,44.8],[-67.8,45.7],[-67.8,47.07],[-68.3,47.35],[-69.05,47.25],[-69.23,47.46],[-70.0,46.7],[-70.3,46.0],[-70.85,45.4],[-71.08,45.3],[-70.97,43.35]]]
];
var h='';
for(var i=0;i<D.length;i++){
  var pts=D[i][1],s='';
  for(var j=0;j<pts.length;j++){var q=P(pts[j][0],pts[j][1]);s+=(j?'L':'M')+q[0].toFixed(1)+','+q[1].toFixed(1);}
  h+='<path fill="'+D[i][0]+'" d="'+s+'Z"/>';
}
document.getElementById('st').innerHTML=h;
})();
</script>
</body></html>
